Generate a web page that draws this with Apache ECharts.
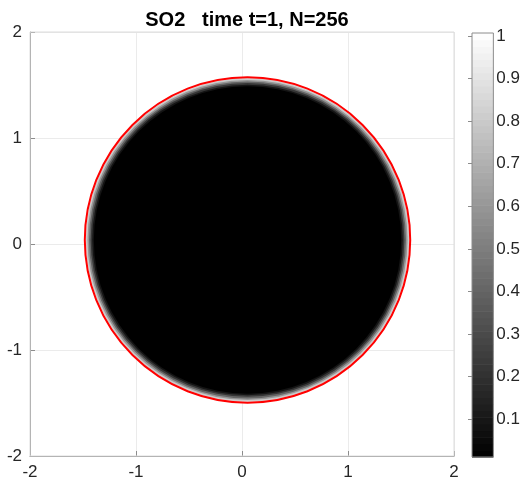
<!DOCTYPE html>
<html>
<head>
<meta charset="utf-8">
<script src="https://cdn.jsdelivr.net/npm/echarts@6/dist/echarts.min.js"></script>
<style>html,body{margin:0;padding:0;background:#fff}#c{width:523px;height:483px}</style>
</head>
<body>
<div id="c"></div>
<script>
// ---- data ----
const titleText = 'SO2   time t=1, N=256';
const axisTicks = [-2, -1, 0, 1, 2];
// disc (level set) centre and red contour radius
const contourCenter = [0.052, 0.038];
const contourRadius = 1.535;
// radial profile of the field just inside the contour (radius, value), outermost first
const ringRadius = [1.54, 1.525, 1.51, 1.495, 1.48, 1.465, 1.45];
const ringValue  = [0.95, 0.80, 0.60, 0.40, 0.22, 0.09, 0.011];
// colorbar
const cbMin = 0.011;
const cbMax = 1.007;
const cbTicks = [0.1, 0.2, 0.3, 0.4, 0.5, 0.6, 0.7, 0.8, 0.9, 1];
const cbLevels = 64;

// ---- build series data ----
const discData = ringRadius.map((r, i) => [ringValue[i], contourCenter[0], contourCenter[1], r]);
const cbData = [];
for (let i = 0; i < cbLevels; i++) {
  const lo = cbMin + (cbMax - cbMin) * i / cbLevels;
  const hi = cbMin + (cbMax - cbMin) * (i + 1) / cbLevels;
  cbData.push([(lo + hi) / 2, lo, hi]);
}

const labelColor = '#262626';
const axisColor = '#8c8c8c';
const font = 'Liberation Sans, Arial, Helvetica, sans-serif';

const chart = echarts.init(document.getElementById('c'), null, {renderer: 'canvas'});
chart.setOption({
  animation: false,
  backgroundColor: '#ffffff',
  title: {
    text: titleText,
    left: 242, top: 5, textAlign: 'center',
    textStyle: {fontFamily: font, fontSize: 20, fontWeight: 'bold', color: '#000'}
  },
  grid: [
    {left: 30, top: 32, width: 424, height: 424, show: true, z: 5,
     backgroundColor: 'transparent', borderColor: '#dcdcdc', borderWidth: 1},
    {left: 472, top: 33, width: 22, height: 424, show: true, z: 5,
     backgroundColor: 'transparent', borderColor: axisColor, borderWidth: 1}
  ],
  xAxis: [
    {type: 'value', gridIndex: 0, min: -2, max: 2, interval: 1,
     axisLine: {show: true, onZero: false, lineStyle: {color: axisColor}},
     axisTick: {show: true, inside: true, length: 5, lineStyle: {color: axisColor}},
     splitLine: {show: true, lineStyle: {color: '#ebebeb'}},
     axisLabel: {fontFamily: font, fontSize: 17, color: labelColor, margin: 8}},
    {type: 'value', gridIndex: 1, min: 0, max: 1, show: false}
  ],
  yAxis: [
    {type: 'value', gridIndex: 0, min: -2, max: 2, interval: 1,
     axisLine: {show: true, onZero: false, lineStyle: {color: axisColor}},
     axisTick: {show: true, inside: true, length: 5, lineStyle: {color: axisColor}},
     splitLine: {show: true, lineStyle: {color: '#ebebeb'}},
     axisLabel: {fontFamily: font, fontSize: 17, color: labelColor, margin: 8}},
    {type: 'value', gridIndex: 1, min: cbMin, max: cbMax, position: 'right',
     axisLine: {show: false},
     axisTick: {show: true, inside: true, length: 4, customValues: cbTicks, lineStyle: {color: axisColor}},
     splitLine: {show: false},
     axisLabel: {fontFamily: font, fontSize: 17, color: labelColor, margin: 3, customValues: cbTicks}}
  ],
  visualMap: [{
    show: false, type: 'continuous', min: cbMin, max: cbMax, dimension: 0,
    seriesIndex: [0, 2],
    inRange: {color: ['#000000', '#ffffff']}
  }],
  series: [
    {
      type: 'custom', xAxisIndex: 0, yAxisIndex: 0, z: 2,
      encode: {x: 1, y: 2},
      data: discData,
      renderItem: function (params, api) {
        const c = api.coord([api.value(1), api.value(2)]);
        const r = api.size([api.value(3), 0])[0];
        return {type: 'circle', shape: {cx: c[0], cy: c[1], r: r},
                style: {fill: api.visual('color'), stroke: null}};
      }
    },
    {
      type: 'custom', xAxisIndex: 0, yAxisIndex: 0, z: 3,
      encode: {x: 0, y: 1},
      data: [[contourCenter[0], contourCenter[1], contourRadius]],
      renderItem: function (params, api) {
        const c = api.coord([api.value(0), api.value(1)]);
        const r = api.size([api.value(2), 0])[0];
        return {type: 'circle', shape: {cx: c[0], cy: c[1], r: r},
                style: {fill: null, stroke: '#ff0000', lineWidth: 2}};
      }
    },
    {
      type: 'custom', xAxisIndex: 1, yAxisIndex: 1, z: 2,
      encode: {x: 0, y: 1},
      data: cbData,
      renderItem: function (params, api) {
        const p0 = api.coord([0, api.value(1)]);
        const p1 = api.coord([1, api.value(2)]);
        return {type: 'rect',
                shape: {x: p0[0], y: p1[1], width: p1[0] - p0[0], height: p0[1] - p1[1] + 0.6},
                style: {fill: api.visual('color'), stroke: null}};
      }
    }
  ]
});
</script>
</body>
</html>
